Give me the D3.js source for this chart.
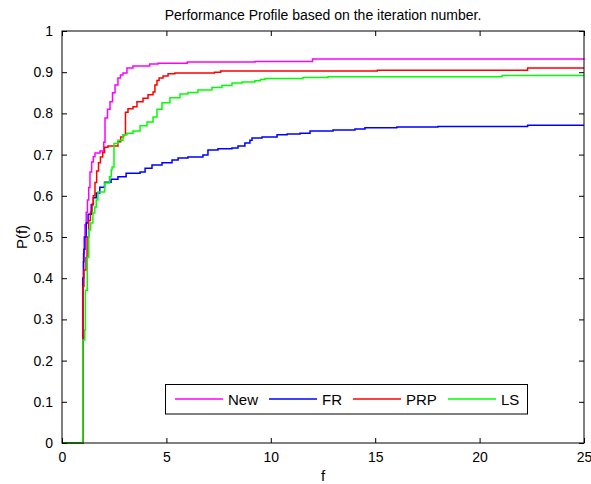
<!DOCTYPE html>
<html><head><meta charset="utf-8">
<script src="https://cdn.jsdelivr.net/npm/d3@7"></script>
<style>body{margin:0;background:#fff}svg{display:block}text{font-family:"Liberation Sans",Arial,sans-serif;fill:#000}</style>
</head><body><div id="c"></div>
<script>
const seriesNames = ["New", "FR", "PRP", "LS"];
const seriesColors = ["#ff00ff", "#0000ff", "#ff0000", "#00ff00"];
const xTicks = [0, 5, 10, 15, 20, 25];
const yTicks = [0, 0.1, 0.2, 0.3, 0.4, 0.5, 0.6, 0.7, 0.8, 0.9, 1];
const yTickLabels = ["0", "0.1", "0.2", "0.3", "0.4", "0.5", "0.6", "0.7", "0.8", "0.9", "1"];

const newT = [0,1,1.03,1.06,1.1,1.16,1.22,1.28,1.34,1.42,1.5,1.58,1.82,2.0,2.06,2.18,2.3,2.42,2.54,2.68,2.8,2.92,3.11,3.4,4.2,4.6,6.0,9.24,12.0,25];
const newP = [0,0.40,0.46,0.50,0.53,0.56,0.59,0.62,0.658,0.682,0.695,0.704,0.709,0.73,0.789,0.81,0.828,0.85,0.869,0.886,0.893,0.898,0.91,0.915,0.92,0.922,0.925,0.926,0.932,0.933];

const frT = [0,1,1.03,1.05,1.1,1.16,1.25,1.4,1.5,1.64,1.81,2.04,2.35,2.68,3.07,3.74,3.98,4.31,4.79,5.27,5.56,6.03,6.75,6.99,7.47,8.14,8.43,8.76,9.0,9.1,9.58,10.3,10.78,11.4,11.88,12.98,14.03,14.51,16.04,18.0,22.3,25];
const frP = [0,0.40,0.44,0.47,0.50,0.534,0.555,0.578,0.595,0.607,0.621,0.633,0.64,0.646,0.655,0.658,0.667,0.675,0.68,0.687,0.692,0.694,0.699,0.711,0.714,0.716,0.721,0.728,0.735,0.74,0.743,0.748,0.75,0.752,0.757,0.76,0.762,0.765,0.767,0.768,0.771,0.771];

const prpT = [0,1,1.05,1.15,1.2,1.28,1.36,1.44,1.5,1.58,1.66,1.75,1.84,1.95,2.04,2.2,2.68,2.81,2.95,3.04,3.16,3.4,3.59,3.88,4.12,4.36,4.45,4.55,4.65,4.84,5.08,5.41,7.3,7.6,15.1,22.3,25];
const prpP = [0,0.38,0.42,0.45,0.50,0.54,0.56,0.58,0.60,0.632,0.66,0.68,0.694,0.705,0.718,0.721,0.731,0.743,0.748,0.803,0.811,0.816,0.828,0.837,0.845,0.852,0.869,0.88,0.886,0.891,0.896,0.898,0.90,0.903,0.905,0.91,0.91];

const lsT = [0,1,1.09,1.12,1.21,1.28,1.37,1.48,1.57,1.64,1.72,2.04,2.28,2.36,2.4,2.49,2.68,2.92,3.11,3.4,3.74,4.07,4.36,4.55,4.79,5.17,5.65,6.03,6.51,7.18,7.66,8.14,8.62,9.24,9.5,9.72,11.54,12.74,21.07,25];
const lsP = [0,0.25,0.274,0.371,0.451,0.517,0.534,0.558,0.573,0.59,0.609,0.631,0.646,0.663,0.67,0.727,0.735,0.748,0.752,0.757,0.77,0.779,0.791,0.81,0.826,0.838,0.847,0.851,0.857,0.863,0.868,0.874,0.876,0.879,0.882,0.885,0.887,0.889,0.892,0.892];

const seriesT = [newT, frT, prpT, lsT];
const seriesP = [newP, frP, prpP, lsP];

const W = 591, H = 484;
const m = {l: 62, r: 7, t: 31, b: 41};
const svg = d3.select("#c").append("svg").attr("width", W).attr("height", H);
const x = d3.scaleLinear().domain([0, 25]).range([m.l, W - m.r]);
const y = d3.scaleLinear().domain([0, 1]).range([H - m.b, m.t]);

// lines
const line = d3.line().x(d => x(d[0])).y(d => y(d[1])).curve(d3.curveStepAfter);
seriesNames.forEach((n, i) => {
  const pts = seriesT[i].map((t, j) => [t, seriesP[i][j]]);
  svg.append("path").attr("d", line(pts)).attr("fill", "none")
    .attr("stroke", seriesColors[i]).attr("stroke-width", 1.5);
});

// axes (ticks inward)
const tl = 5;
const xb = d3.axisBottom(x).tickValues(xTicks).tickSize(-tl).tickPadding(9).tickFormat(d3.format("d"));
const xt = d3.axisTop(x).tickValues(xTicks).tickSize(-tl).tickFormat("");
const yl = d3.axisLeft(y).tickValues(yTicks).tickSize(-tl).tickPadding(9).tickFormat((d, i) => yTickLabels[i]);
const yr = d3.axisRight(y).tickValues(yTicks).tickSize(-tl).tickFormat("");
function style(g) {
  g.select(".domain").remove();
  g.selectAll(".tick line").attr("stroke", "#000");
  g.selectAll(".tick text").attr("font-size", 14).attr("font-family", "Liberation Sans, Arial, sans-serif");
}
svg.append("g").attr("transform", `translate(0,${H - m.b})`).call(xb).call(style);
svg.append("g").attr("transform", `translate(0,${m.t})`).call(xt).call(style);
svg.append("g").attr("transform", `translate(${m.l},0)`).call(yl).call(style);
svg.append("g").attr("transform", `translate(${W - m.r},0)`).call(yr).call(style);
svg.append("rect").attr("x", m.l).attr("y", m.t).attr("width", W - m.r - m.l).attr("height", H - m.b - m.t)
  .attr("fill", "none").attr("stroke", "#000").attr("stroke-width", 1);

// title & labels
const cx = (m.l + W - m.r) / 2;
svg.append("text").attr("x", cx).attr("y", 20).attr("text-anchor", "middle").attr("font-size", 14)
  .text("Performance Profile based on the iteration number.");
svg.append("text").attr("x", cx).attr("y", 481).attr("text-anchor", "middle").attr("font-size", 15).text("f");
svg.append("text").attr("transform", `translate(27,${(m.t + H - m.b) / 2}) rotate(-90)`)
  .attr("text-anchor", "middle").attr("font-size", 15).text("P(f)");

// legend
const lg = svg.append("g");
lg.append("rect").attr("x", 165.5).attr("y", 384.5).attr("width", 362).attr("height", 29.5)
  .attr("fill", "#fff").attr("stroke", "#000").attr("stroke-width", 1);
const lx = [175, 269, 353, 448];
seriesNames.forEach((n, i) => {
  lg.append("line").attr("x1", lx[i]).attr("x2", lx[i] + 48).attr("y1", 399).attr("y2", 399)
    .attr("stroke", seriesColors[i]).attr("stroke-width", 1.5);
  lg.append("text").attr("x", lx[i] + 53).attr("y", 404.5).attr("font-size", 15).text(n);
});
</script></body></html>
